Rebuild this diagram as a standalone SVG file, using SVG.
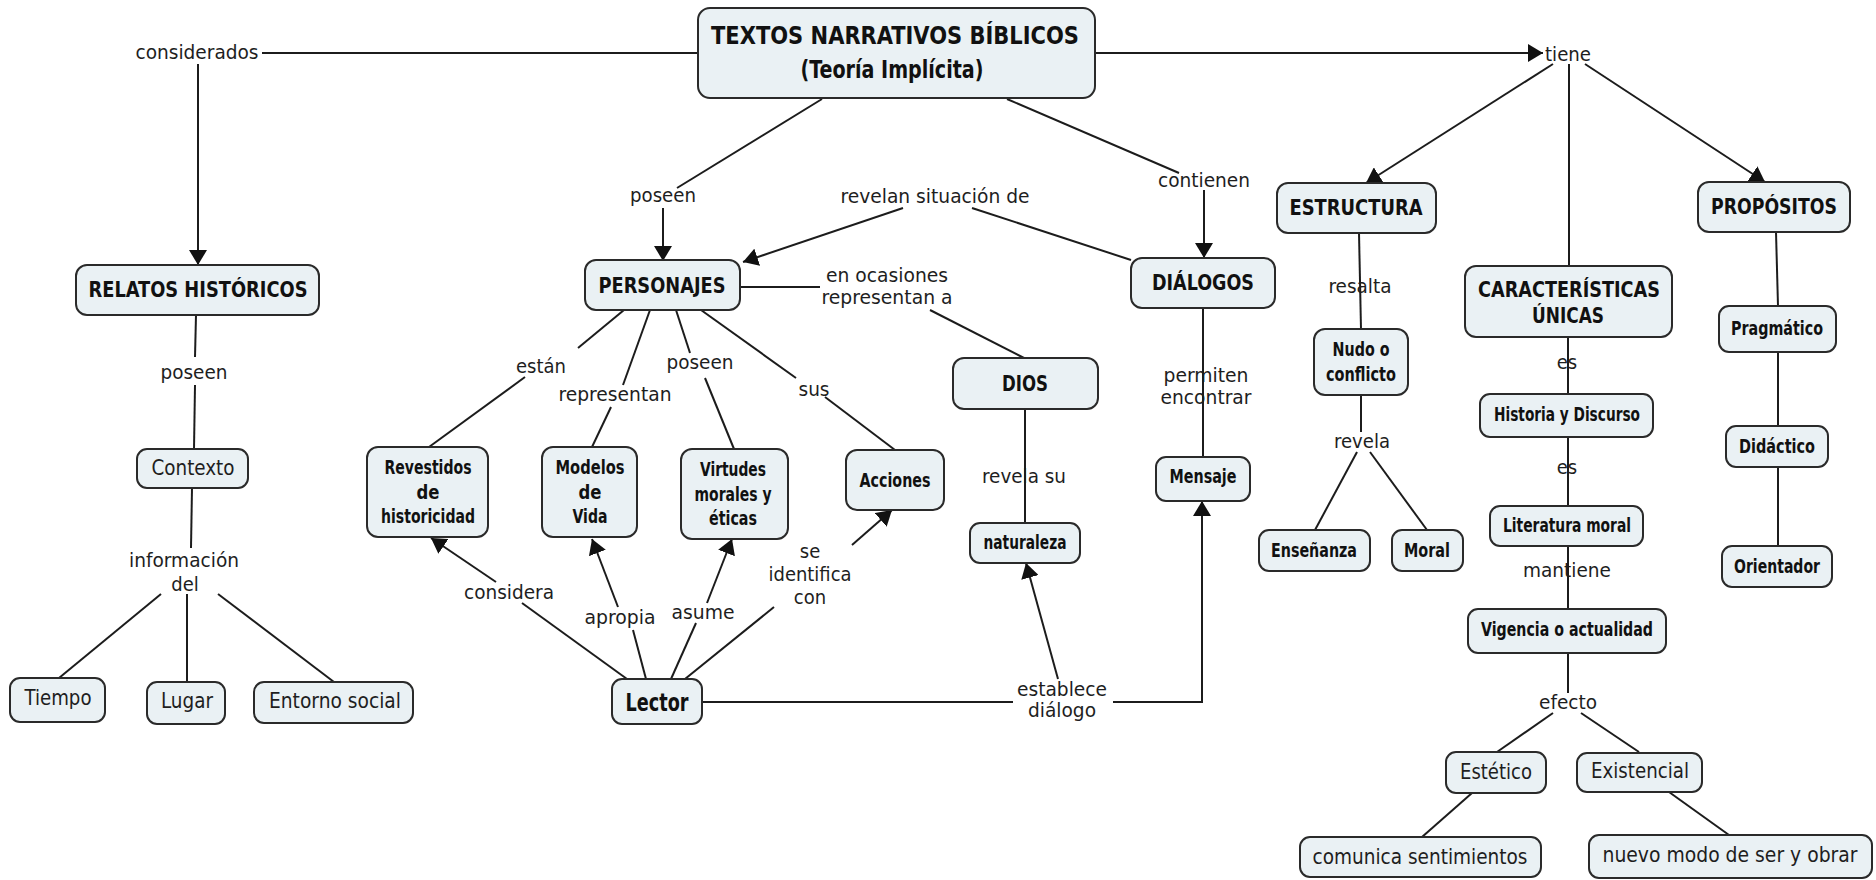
<svg xmlns="http://www.w3.org/2000/svg" width="1876" height="880" viewBox="0 0 1876 880">
<defs>
<marker id="ah" viewBox="0 0 15 18" markerWidth="15" markerHeight="18" refX="15" refY="9" orient="auto" markerUnits="userSpaceOnUse">
<path d="M0,0 L15,9 L0,18 z" fill="#111"/>
</marker>
<style>
.box{fill:#eaf1f4;stroke:#2a2a2a;stroke-width:2}
.ln{stroke:#1c1c1c;stroke-width:2;fill:none}
.ar{marker-end:url(#ah)}
.b{font-family:"Liberation Sans Narrow","DejaVu Sans Condensed","Liberation Sans",sans-serif;font-weight:bold;fill:#111;text-anchor:middle}
.h{font-family:"DejaVu Sans Condensed","DejaVu Sans",sans-serif;font-size:20.5px}
.m{font-size:19.5px}
.r{font-family:"DejaVu Sans Condensed","DejaVu Sans",sans-serif;fill:#1e1e1e;text-anchor:middle;font-size:21px}
.l{font-family:"DejaVu Sans Condensed","DejaVu Sans",sans-serif;fill:#1e1e1e;text-anchor:middle;font-size:20px}
</style>
</defs>
<rect width="1876" height="880" fill="#ffffff"/>

<g id="connectors">
<line class="ln" x1="699" y1="53" x2="262" y2="53"/>
<line class="ln ar" x1="198" y1="64" x2="198" y2="265"/>
<line class="ln" x1="196" y1="315" x2="195" y2="357"/>
<line class="ln" x1="195" y1="385" x2="194" y2="449"/>
<line class="ln" x1="192" y1="488" x2="191" y2="548"/>
<line class="ln" x1="161" y1="594" x2="59" y2="678"/>
<line class="ln" x1="187" y1="594" x2="187" y2="682"/>
<line class="ln" x1="218" y1="594" x2="334" y2="682"/>
<line class="ln" x1="822" y1="99" x2="677" y2="188"/>
<line class="ln ar" x1="663" y1="208" x2="663" y2="261"/>
<line class="ln" x1="1007" y1="99" x2="1179" y2="173"/>
<line class="ln ar" x1="1204" y1="190" x2="1204" y2="258"/>
<line class="ln" x1="1131" y1="260" x2="972" y2="208"/>
<line class="ln ar" x1="903" y1="208" x2="743" y2="262"/>
<line class="ln" x1="738" y1="287" x2="820" y2="287"/>
<line class="ln" x1="930" y1="310" x2="1024" y2="358"/>
<line class="ln" x1="624" y1="310" x2="578" y2="348"/>
<line class="ln" x1="525" y1="377" x2="429" y2="447"/>
<line class="ln" x1="650" y1="310" x2="623" y2="385"/>
<line class="ln" x1="611" y1="407" x2="592" y2="447"/>
<line class="ln" x1="676" y1="310" x2="690" y2="353"/>
<line class="ln" x1="705" y1="378" x2="734" y2="449"/>
<line class="ln" x1="701" y1="310" x2="796" y2="378"/>
<line class="ln" x1="825" y1="397" x2="895" y2="450"/>
<line class="ln" x1="627" y1="679" x2="522" y2="603"/>
<line class="ln ar" x1="496" y1="582" x2="431" y2="538"/>
<line class="ln" x1="646" y1="679" x2="633" y2="630"/>
<line class="ln ar" x1="618" y1="607" x2="592" y2="539"/>
<line class="ln" x1="671" y1="679" x2="696" y2="623"/>
<line class="ln ar" x1="707" y1="603" x2="732" y2="539"/>
<line class="ln" x1="685" y1="679" x2="774" y2="607"/>
<line class="ln ar" x1="852" y1="545" x2="892" y2="510"/>
<line class="ln" x1="702" y1="702" x2="1013" y2="702"/>
<polyline class="ln ar" points="1113,702 1202,702 1202,501"/>
<line class="ln ar" x1="1058" y1="679" x2="1026" y2="563"/>
<line class="ln" x1="1025" y1="409" x2="1025" y2="523"/>
<line class="ln" x1="1203" y1="308" x2="1203" y2="457"/>
<line class="ln ar" x1="1094" y1="53" x2="1543" y2="53"/>
<line class="ln ar" x1="1553" y1="64" x2="1366" y2="183"/>
<line class="ln" x1="1569" y1="64" x2="1569" y2="266"/>
<line class="ln ar" x1="1585" y1="64" x2="1765" y2="182"/>
<line class="ln" x1="1359" y1="233" x2="1361" y2="329"/>
<line class="ln" x1="1361" y1="395" x2="1361" y2="432"/>
<line class="ln" x1="1357" y1="452" x2="1315" y2="530"/>
<line class="ln" x1="1370" y1="452" x2="1427" y2="530"/>
<line class="ln" x1="1568" y1="337" x2="1568" y2="394"/>
<line class="ln" x1="1568" y1="437" x2="1568" y2="506"/>
<line class="ln" x1="1568" y1="546" x2="1568" y2="609"/>
<line class="ln" x1="1568" y1="653" x2="1568" y2="693"/>
<line class="ln" x1="1553" y1="713" x2="1497" y2="752"/>
<line class="ln" x1="1581" y1="713" x2="1639" y2="752"/>
<line class="ln" x1="1472" y1="793" x2="1422" y2="837"/>
<line class="ln" x1="1669" y1="792" x2="1729" y2="835"/>
<line class="ln" x1="1776" y1="232" x2="1778" y2="306"/>
<line class="ln" x1="1778" y1="352" x2="1778" y2="426"/>
<line class="ln" x1="1778" y1="467" x2="1778" y2="546"/>
</g>

<g id="labels">
<text class="l" x="197" y="59" textLength="123" lengthAdjust="spacingAndGlyphs">considerados</text>
<text class="l" x="194" y="379" textLength="67" lengthAdjust="spacingAndGlyphs">poseen</text>
<text class="l" x="184" y="567" textLength="110" lengthAdjust="spacingAndGlyphs">información</text>
<text class="l" x="185" y="591">del</text>
<text class="l" x="663" y="202" textLength="66" lengthAdjust="spacingAndGlyphs">poseen</text>
<text class="l" x="1204" y="187" textLength="92" lengthAdjust="spacingAndGlyphs">contienen</text>
<text class="l" x="935" y="203" textLength="189" lengthAdjust="spacingAndGlyphs">revelan situación de</text>
<text class="l" x="887" y="282" textLength="122" lengthAdjust="spacingAndGlyphs">en ocasiones</text>
<text class="l" x="887" y="304" textLength="131" lengthAdjust="spacingAndGlyphs">representan a</text>
<text class="l" x="541" y="373" textLength="50" lengthAdjust="spacingAndGlyphs">están</text>
<text class="l" x="615" y="401" textLength="113" lengthAdjust="spacingAndGlyphs">representan</text>
<text class="l" x="700" y="369" textLength="67" lengthAdjust="spacingAndGlyphs">poseen</text>
<text class="l" x="814" y="396" textLength="31" lengthAdjust="spacingAndGlyphs">sus</text>
<text class="l" x="1024" y="483" textLength="84" lengthAdjust="spacingAndGlyphs">revela su</text>
<text class="l" x="1206" y="382" textLength="85" lengthAdjust="spacingAndGlyphs">permiten</text>
<text class="l" x="1206" y="404" textLength="91" lengthAdjust="spacingAndGlyphs">encontrar</text>
<text class="l" x="509" y="599" textLength="90" lengthAdjust="spacingAndGlyphs">considera</text>
<text class="l" x="620" y="624" textLength="71" lengthAdjust="spacingAndGlyphs">apropia</text>
<text class="l" x="703" y="619" textLength="63" lengthAdjust="spacingAndGlyphs">asume</text>
<text class="l" x="810" y="558">se</text>
<text class="l" x="810" y="581" textLength="83" lengthAdjust="spacingAndGlyphs">identifica</text>
<text class="l" x="810" y="604">con</text>
<text class="l" x="1062" y="696" textLength="90" lengthAdjust="spacingAndGlyphs">establece</text>
<text class="l" x="1062" y="717" textLength="68" lengthAdjust="spacingAndGlyphs">diálogo</text>
<text class="l" x="1568" y="61" textLength="46" lengthAdjust="spacingAndGlyphs">tiene</text>
<text class="l" x="1360" y="293" textLength="63" lengthAdjust="spacingAndGlyphs">resalta</text>
<text class="l" x="1362" y="448" textLength="56" lengthAdjust="spacingAndGlyphs">revela</text>
<text class="l" x="1567" y="369">es</text>
<text class="l" x="1567" y="474">es</text>
<text class="l" x="1567" y="577" textLength="88" lengthAdjust="spacingAndGlyphs">mantiene</text>
<text class="l" x="1568" y="709" textLength="58" lengthAdjust="spacingAndGlyphs">efecto</text>
</g>

<g id="n-textos"><rect class="box" x="698" y="8" width="397" height="90" rx="12"/>
<text class="b" x="895" y="44" font-size="25.5" textLength="368" lengthAdjust="spacingAndGlyphs">TEXTOS NARRATIVOS BÍBLICOS</text>
<text class="b" x="892" y="78" font-size="25.5" textLength="183" lengthAdjust="spacingAndGlyphs">(Teoría Implícita)</text></g>

<g id="n-relatos"><rect class="box" x="76" y="265" width="243" height="50" rx="11"/>
<text class="b h" x="198" y="297" textLength="219" lengthAdjust="spacingAndGlyphs">RELATOS HISTÓRICOS</text></g>
<g id="n-personajes"><rect class="box" x="585" y="260" width="155" height="50" rx="11"/>
<text class="b h" x="662" y="293" textLength="127" lengthAdjust="spacingAndGlyphs">PERSONAJES</text></g>
<g id="n-dialogos"><rect class="box" x="1131" y="258" width="144" height="50" rx="11"/>
<text class="b h" x="1203" y="290" textLength="102" lengthAdjust="spacingAndGlyphs">DIÁLOGOS</text></g>
<g id="n-dios"><rect class="box" x="953" y="358" width="145" height="51" rx="11"/>
<text class="b h" x="1025" y="391" textLength="46" lengthAdjust="spacingAndGlyphs">DIOS</text></g>
<g id="n-estructura"><rect class="box" x="1277" y="183" width="159" height="50" rx="11"/>
<text class="b h" x="1356" y="215" textLength="133" lengthAdjust="spacingAndGlyphs">ESTRUCTURA</text></g>
<g id="n-propositos"><rect class="box" x="1698" y="182" width="152" height="50" rx="11"/>
<text class="b h" x="1774" y="214" textLength="126" lengthAdjust="spacingAndGlyphs">PROPÓSITOS</text></g>
<g id="n-caracteristicas"><rect class="box" x="1465" y="266" width="207" height="71" rx="11"/>
<text class="b h" x="1569" y="297" textLength="182" lengthAdjust="spacingAndGlyphs">CARACTERÍSTICAS</text>
<text class="b h" x="1568" y="323" textLength="72" lengthAdjust="spacingAndGlyphs">ÚNICAS</text></g>

<g id="n-contexto"><rect class="box" x="137" y="449" width="111" height="39" rx="10"/>
<text class="r" x="193" y="475" textLength="83" lengthAdjust="spacingAndGlyphs">Contexto</text></g>
<g id="n-tiempo"><rect class="box" x="10" y="678" width="95" height="44" rx="10"/>
<text class="r" x="58" y="705" textLength="67" lengthAdjust="spacingAndGlyphs">Tiempo</text></g>
<g id="n-lugar"><rect class="box" x="147" y="682" width="78" height="42" rx="10"/>
<text class="r" x="187" y="708" textLength="52" lengthAdjust="spacingAndGlyphs">Lugar</text></g>
<g id="n-entorno"><rect class="box" x="254" y="682" width="159" height="41" rx="10"/>
<text class="r" x="335" y="708" textLength="132" lengthAdjust="spacingAndGlyphs">Entorno social</text></g>

<g id="n-revestidos"><rect class="box" x="367" y="447" width="121" height="90" rx="11"/>
<text class="b m" x="428" y="474" textLength="87" lengthAdjust="spacingAndGlyphs">Revestidos</text>
<text class="b m" x="428" y="499" textLength="23" lengthAdjust="spacingAndGlyphs">de</text>
<text class="b m" x="428" y="523" textLength="94" lengthAdjust="spacingAndGlyphs">historicidad</text></g>
<g id="n-modelos"><rect class="box" x="542" y="447" width="95" height="90" rx="11"/>
<text class="b m" x="590" y="474" textLength="69" lengthAdjust="spacingAndGlyphs">Modelos</text>
<text class="b m" x="590" y="499" textLength="23" lengthAdjust="spacingAndGlyphs">de</text>
<text class="b m" x="590" y="523" textLength="35" lengthAdjust="spacingAndGlyphs">Vida</text></g>
<g id="n-virtudes"><rect class="box" x="681" y="449" width="107" height="90" rx="11"/>
<text class="b m" x="733" y="476" textLength="66" lengthAdjust="spacingAndGlyphs">Virtudes</text>
<text class="b m" x="733" y="501" textLength="77" lengthAdjust="spacingAndGlyphs">morales y</text>
<text class="b m" x="733" y="525" textLength="48" lengthAdjust="spacingAndGlyphs">éticas</text></g>
<g id="n-acciones"><rect class="box" x="846" y="450" width="98" height="60" rx="11"/>
<text class="b m" x="895" y="487" textLength="71" lengthAdjust="spacingAndGlyphs">Acciones</text></g>
<g id="n-naturaleza"><rect class="box" x="970" y="523" width="110" height="40" rx="10"/>
<text class="b m" x="1025" y="549" textLength="83" lengthAdjust="spacingAndGlyphs">naturaleza</text></g>
<g id="n-mensaje"><rect class="box" x="1156" y="457" width="94" height="44" rx="10"/>
<text class="b m" x="1203" y="483" textLength="67" lengthAdjust="spacingAndGlyphs">Mensaje</text></g>
<g id="n-lector"><rect class="box" x="612" y="679" width="90" height="45" rx="10"/>
<text class="b" x="657" y="711" font-size="24" textLength="63" lengthAdjust="spacingAndGlyphs">Lector</text></g>

<g id="n-nudo"><rect class="box" x="1314" y="329" width="94" height="66" rx="11"/>
<text class="b m" x="1361" y="356" textLength="57" lengthAdjust="spacingAndGlyphs">Nudo o</text>
<text class="b m" x="1361" y="381" textLength="70" lengthAdjust="spacingAndGlyphs">conflicto</text></g>
<g id="n-ensenanza"><rect class="box" x="1259" y="530" width="111" height="41" rx="10"/>
<text class="b m" x="1314" y="557" textLength="86" lengthAdjust="spacingAndGlyphs">Enseñanza</text></g>
<g id="n-moral"><rect class="box" x="1392" y="530" width="71" height="41" rx="10"/>
<text class="b m" x="1427" y="557" textLength="46" lengthAdjust="spacingAndGlyphs">Moral</text></g>
<g id="n-historia"><rect class="box" x="1480" y="394" width="173" height="43" rx="10"/>
<text class="b m" x="1567" y="421" textLength="146" lengthAdjust="spacingAndGlyphs">Historia y Discurso</text></g>
<g id="n-literatura"><rect class="box" x="1490" y="506" width="153" height="40" rx="10"/>
<text class="b m" x="1567" y="532" textLength="128" lengthAdjust="spacingAndGlyphs">Literatura moral</text></g>
<g id="n-vigencia"><rect class="box" x="1468" y="609" width="198" height="44" rx="10"/>
<text class="b m" x="1567" y="636" textLength="172" lengthAdjust="spacingAndGlyphs">Vigencia o actualidad</text></g>
<g id="n-estetico"><rect class="box" x="1446" y="752" width="100" height="41" rx="10"/>
<text class="r" x="1496" y="779" textLength="72" lengthAdjust="spacingAndGlyphs">Estético</text></g>
<g id="n-existencial"><rect class="box" x="1577" y="753" width="125" height="39" rx="10"/>
<text class="r" x="1640" y="778" textLength="98" lengthAdjust="spacingAndGlyphs">Existencial</text></g>
<g id="n-comunica"><rect class="box" x="1300" y="837" width="241" height="40" rx="10"/>
<text class="r" x="1420" y="864" textLength="215" lengthAdjust="spacingAndGlyphs">comunica sentimientos</text></g>
<g id="n-nuevo"><rect class="box" x="1589" y="835" width="283" height="43" rx="10"/>
<text class="r" x="1730" y="862" textLength="255" lengthAdjust="spacingAndGlyphs">nuevo modo de ser y obrar</text></g>
<g id="n-pragmatico"><rect class="box" x="1719" y="306" width="117" height="46" rx="10"/>
<text class="b m" x="1777" y="335" textLength="92" lengthAdjust="spacingAndGlyphs">Pragmático</text></g>
<g id="n-didactico"><rect class="box" x="1726" y="426" width="102" height="41" rx="10"/>
<text class="b m" x="1777" y="453" textLength="76" lengthAdjust="spacingAndGlyphs">Didáctico</text></g>
<g id="n-orientador"><rect class="box" x="1722" y="546" width="110" height="41" rx="10"/>
<text class="b m" x="1777" y="573" textLength="86" lengthAdjust="spacingAndGlyphs">Orientador</text></g>
</svg>
